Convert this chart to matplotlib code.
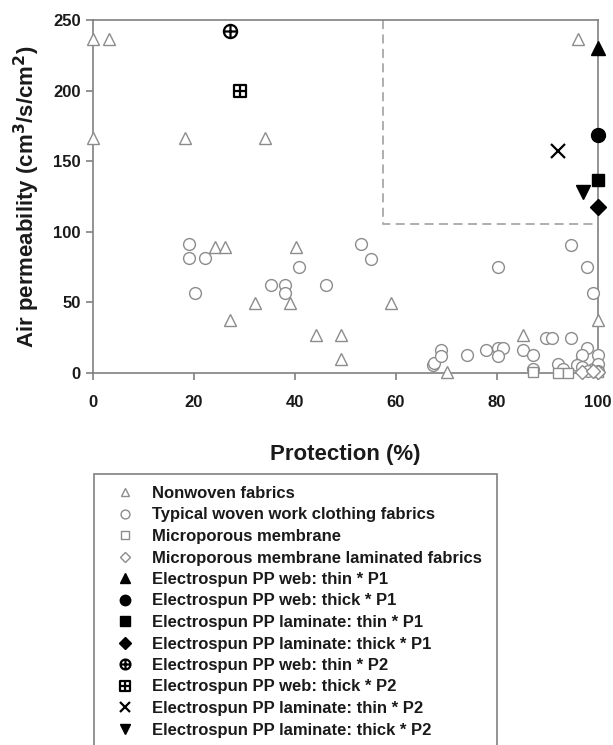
import matplotlib
matplotlib.use("Agg")
import matplotlib.pyplot as plt
from matplotlib.path import Path
from matplotlib.patches import Rectangle

plt.rcParams['font.family'] = ['Liberation Sans', 'DejaVu Sans']
plt.rcParams['font.weight'] = 'bold'
plt.rcParams['mathtext.default'] = 'bf'

# nonwoven fabrics
nonwoven_x = [0, 3.2, 0, 18.2, 34.1, 96, 24.2, 26.1, 40.1, 27.1, 32.1, 39.1,
              44.1, 49.1, 49.1, 59.1, 70, 85.1, 100, 96.2]
nonwoven_y = [236.5, 236.5, 166.6, 166.6, 166.6, 236.5, 89.4, 89.4, 89.4, 37.5,
              49.8, 49.8, 26.9, 27, 9.9, 49.8, 0.5, 27, 37.5, 9.7]

# typical woven work clothing fabrics
woven_x = [19.1, 19.1, 22.2, 20.1, 35.2, 38.1, 38.1, 40.8, 46.1, 53.1, 55,
           67.3, 67.6, 69, 69, 74.1, 77.8, 80.1, 81.1, 80.1, 80.1, 85.1, 87.2,
           87.2, 89.8, 90.9, 94.7, 94.7, 97.9, 99.1, 97.9, 96.9, 95.8, 92,
           93.1, 96.9, 99.1, 100, 100, 98, 100]
woven_y = [91.1, 81.2, 81.2, 56.4, 62.3, 62.3, 56.4, 74.8, 62.3, 91.4, 81,
           5.7, 7, 16.5, 12, 12.7, 16.3, 17.5, 17.5, 12, 74.8, 16.3, 12.7,
           2.6, 25, 25, 25, 91, 74.8, 56.4, 17.5, 12.7, 5.7, 6.4,
           2.6, 4.5, 2.6, 12.7, 6.4, 1.5, 1.5]

# microporous membrane
membrane_x = [87.2, 92, 94.1, 100]
membrane_y = [0.5, 0.3, 0.3, 1]

# microporous membrane laminated fabrics
laminated_x = [96.9, 100, 99]
laminated_y = [0.5, 0.5, 1.5]

# electrospun PP samples
es_labels = ['Electrospun PP web: thin * P1', 'Electrospun PP web: thick * P1',
             'Electrospun PP laminate: thin * P1', 'Electrospun PP laminate: thick * P1',
             'Electrospun PP web: thin * P2', 'Electrospun PP web: thick * P2',
             'Electrospun PP laminate: thin * P2', 'Electrospun PP laminate: thick * P2']
es_x = [100, 100, 100, 100, 27.1, 29.1, 92, 97.1]
es_y = [230, 168.5, 137, 117.8, 242.4, 200, 157.4, 128]

# dashed "target" region corner
box_x0 = 57.5
box_y0 = 105.3

# circle-plus and box-plus marker shapes
_plus = Path([(-1, 0), (1, 0), (0, -1), (0, 1)],
             [Path.MOVETO, Path.LINETO, Path.MOVETO, Path.LINETO])
oplus = Path.make_compound_path(Path.unit_circle(), _plus)
_sq = Path([(-1, -1), (1, -1), (1, 1), (-1, 1), (-1, -1)],
           [Path.MOVETO, Path.LINETO, Path.LINETO, Path.LINETO, Path.CLOSEPOLY])
boxplus = Path.make_compound_path(_sq, _plus)

es_markers = ['^', 'o', 's', 'D', oplus, boxplus, 'x', 'v']
es_sizes = [10, 10, 9, 8.5, 9.5, 9, 10, 10]

gray = '#8c8c8c'
dark = '#1a1a1a'

fig = plt.figure(figsize=(6.13, 7.45), dpi=100)
ax = fig.add_axes([93 / 613, 1 - 373 / 745, 505 / 613, 353 / 745])

ax.plot([box_x0, box_x0, 100], [250, box_y0, box_y0], ls=(0, (5, 3)),
        color='#a8a8a8', lw=1.3, zorder=1)

ax.plot(nonwoven_x, nonwoven_y, ls='none', marker='^', ms=8, mfc='white',
        mec=gray, mew=1.0, clip_on=False, zorder=3, label='Nonwoven fabrics')
ax.plot(woven_x, woven_y, ls='none', marker='o', ms=8.5, mfc='white',
        mec=gray, mew=1.0, clip_on=False, zorder=3,
        label='Typical woven work clothing fabrics')
ax.plot(membrane_x, membrane_y, ls='none', marker='s', ms=7.5, mfc='white',
        mec=gray, mew=1.0, clip_on=False, zorder=3, label='Microporous membrane')
ax.plot(laminated_x, laminated_y, ls='none', marker='D', ms=7, mfc='white',
        mec=gray, mew=1.0, clip_on=False, zorder=3,
        label='Microporous membrane laminated fabrics')

for lab, x, y, m, s in zip(es_labels, es_x, es_y, es_markers, es_sizes):
    if isinstance(m, Path):
        ax.plot([x], [y], ls='none', marker=m, ms=s, mfc='none', mec='black',
                mew=1.6, clip_on=False, zorder=4, label=lab)
    else:
        ax.plot([x], [y], ls='none', marker=m, ms=s, color='black',
                mew=1.6 if m == 'x' else 1.0, clip_on=False, zorder=4, label=lab)

ax.set_xlim(0, 100)
ax.set_ylim(0, 250)
ax.set_xticks([0, 20, 40, 60, 80, 100])
ax.set_yticks([0, 50, 100, 150, 200, 250])

for sp in ax.spines.values():
    sp.set_color('#808080')
    sp.set_linewidth(1.2)
ax.tick_params(direction='out', length=5, width=1.2, color='#808080',
               labelsize=12, labelcolor=dark)
ax.tick_params(axis='x', pad=11)
ax.tick_params(axis='y', pad=4)
for t in ax.get_xticklabels() + ax.get_yticklabels():
    t.set_fontweight('bold')

ax.set_xlabel('Protection (%)', fontsize=16, fontweight='bold',
              color=dark, labelpad=24)
ax.set_ylabel(r'Air permeability (cm$^3$/s/cm$^2$)', fontsize=16,
              fontweight='bold', color=dark, labelpad=8)

# legend frame runs off the bottom of the figure like in the original
fig.patches.append(Rectangle((94 / 613, -0.02), (497 - 94) / 613,
                             1 - 474 / 745 + 0.02, transform=fig.transFigure,
                             fill=False, edgecolor='#808080', lw=1.2))

handles, labels = ax.get_legend_handles_labels()
leg = fig.legend(handles, labels, loc='upper left',
                 bbox_to_anchor=(115 / 613, 1 - 486 / 745),
                 frameon=False, fontsize=12, labelspacing=0.39,
                 handlelength=1.2, handletextpad=1.0, borderpad=0,
                 markerscale=0.75, borderaxespad=0)
for t in leg.get_texts():
    t.set_fontweight('bold')
    t.set_color(dark)

fig.savefig('out.png', dpi=100)
